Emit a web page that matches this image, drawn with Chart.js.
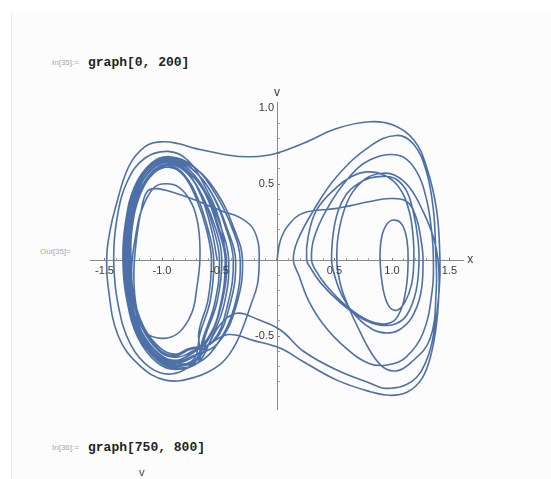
<!DOCTYPE html>
<html>
<head>
<meta charset="utf-8">
<script src="https://cdn.jsdelivr.net/npm/chart.js@4.4.1/dist/chart.umd.min.js"></script>
<style>
  body { margin: 0; background: #fff; width: 551px; height: 479px; overflow: hidden; position: relative; }
  .panel { position: absolute; left: 11px; top: 12px; right: 0; bottom: 0; background: #fbfcfb; border-left: 1px solid #ececec; }
  .tag { position: absolute; font: 8px "Liberation Sans", sans-serif; color: #a8a8a8; }
  .code { position: absolute; font: bold 13px "Liberation Mono", monospace; color: #222; }
  #chart { position: absolute; left: 0; top: 0; }
</style>
</head>
<body>
<div class="panel"></div>
<div class="tag" style="left:52px;top:58px">In[35]:=</div>
<div class="code" style="left:88px;top:55px">graph[0, 200]</div>
<div class="tag" style="left:40px;top:247px">Out[35]=</div>
<div class="tag" style="left:52px;top:443px">In[36]:=</div>
<div class="code" style="left:88px;top:440px">graph[750, 800]</div>
<div class="tag" style="left:139px;top:466px;font-size:11px;color:#444">v</div>
<canvas id="chart" width="551" height="479"></canvas>
<script>
// phase portrait pieces, [x, v], in the order the trajectory runs
const rightStart = [
  [0,0],[0.03,0.13],[0.1,0.23],[0.23,0.31],[0.52,0.34],[0.81,0.385],[0.98,0.405],[1.13,0.385],[1.21,0.28],[1.255,0.12],[1.27,0],
  [1.25,-0.22],[1.17,-0.38],[1.06,-0.46],[0.954,-0.48],[0.84,-0.46],[0.7,-0.38],[0.57,-0.24],[0.5,-0.1],[0.475,0],
  [0.49,0.18],[0.53,0.32],[0.6,0.43],[0.68,0.49],[0.81,0.54],[0.95,0.55],[1.04,0.53],[1.13,0.45],[1.19,0.3],[1.225,0.14],[1.235,0],
  [1.21,-0.2],[1.13,-0.36],[1.03,-0.42],[0.896,-0.428],[0.75,-0.39],[0.55,-0.28],[0.38,-0.15],[0.29,-0.05],[0.258,0],
  [0.27,0.15],[0.345,0.33],[0.52,0.48],[0.65,0.55],[0.78,0.58],[0.93,0.56],[1.06,0.48],[1.15,0.32],[1.185,0.14],[1.19,0],
  [1.17,-0.16],[1.11,-0.28],[1.04,-0.33],[0.97,-0.3],[0.92,-0.18],[0.896,0],
  [0.91,0.15],[0.96,0.24],[1.026,0.263],[1.09,0.23],[1.13,0.13],[1.14,0]
];
const rightLoops = [
  [1.12,-0.2],[1.05,-0.37],[0.95,-0.42],[0.8,-0.4],[0.6,-0.3],[0.42,-0.16],[0.33,-0.06],[0.30,0],
  [0.32,0.14],[0.43,0.33],[0.61,0.53],[0.81,0.66],[1.055,0.69],[1.2,0.6],[1.3,0.4],[1.35,0.15],[1.36,0],
  [1.35,-0.2],[1.27,-0.48],[1.12,-0.64],[0.96,-0.69],[0.8,-0.68],[0.6,-0.58],[0.4,-0.42],[0.27,-0.26],[0.19,-0.1],[0.142,0],
  [0.18,0.13],[0.32,0.33],[0.52,0.55],[0.81,0.75],[1.04,0.82],[1.19,0.76],[1.3,0.58],[1.36,0.33],[1.38,0.05],
  [1.385,-0.19],[1.33,-0.52],[1.157,-0.68],[1.03,-0.73],[0.9,-0.69],[0.75,-0.515],[0.58,-0.23],[0.53,-0.08],[0.52,0],
  [0.53,0.15],[0.58,0.32],[0.66,0.45],[0.78,0.54],[0.9,0.57],[1.02,0.56],[1.15,0.48],[1.27,0.32],[1.36,0.15],[1.40,0]
];
const lowerStrand = [
  [1.41,-0.15],[1.39,-0.4],[1.34,-0.62],[1.26,-0.78],[1.13,-0.87],[0.98,-0.89],[0.81,-0.866],[0.52,-0.79],[0.23,-0.669],
  [0.03,-0.58],[-0.2,-0.53],[-0.42,-0.49],[-0.58,-0.55]
];
const leftBandA = [
  [-0.73,-0.639],[-0.88,-0.68],[-1.03,-0.639],[-1.19,-0.481],[-1.29,-0.233],[-1.32,0],[-1.30,0.226],[-1.23,0.467],[-1.09,0.62],[-0.93,0.66],[-0.77,0.60],[-0.62,0.43],[-0.51,0.20],[-0.45,0],[-0.49,-0.288],[-0.60,-0.521],
  [-0.75,-0.62],[-0.88,-0.66],[-1.02,-0.62],[-1.18,-0.467],[-1.28,-0.226],[-1.30,0],[-1.29,0.219],[-1.21,0.452],[-1.08,0.602],[-0.93,0.64],[-0.79,0.58],[-0.65,0.42],[-0.55,0.20],[-0.50,0],[-0.54,-0.279],[-0.64,-0.506],
  [-0.71,-0.658],[-0.88,-0.70],[-1.03,-0.658],[-1.20,-0.495],[-1.30,-0.239],[-1.33,0],[-1.31,0.229],[-1.23,0.474],[-1.09,0.63],[-0.93,0.67],[-0.75,0.61],[-0.57,0.44],[-0.445,0.21],[-0.38,0],[-0.43,-0.296],[-0.56,-0.536],
  [-0.77,-0.592],[-0.88,-0.63],[-1.02,-0.592],[-1.16,-0.445],[-1.26,-0.215],[-1.28,0],[-1.27,0.212],[-1.20,0.438],[-1.07,0.583],[-0.93,0.62],[-0.805,0.56],[-0.685,0.40],[-0.595,0.19],[-0.55,0],[-0.58,-0.266],[-0.67,-0.483],
  [-0.72,-0.649],[-0.88,-0.69],[-1.03,-0.649],[-1.18,-0.488],[-1.28,-0.236],[-1.31,0],[-1.30,0.222],[-1.22,0.46],[-1.08,0.611],[-0.93,0.65],[-0.76,0.59],[-0.60,0.42],[-0.48,0.20],[-0.42,0],[-0.46,-0.292],[-0.58,-0.529],
  [-0.69,-0.677],[-0.88,-0.72],[-1.04,-0.677],[-1.21,-0.509],[-1.31,-0.246],[-1.34,0],[-1.32,0.233],[-1.24,0.481],[-1.09,0.639],[-0.93,0.68],[-0.73,0.62],[-0.54,0.44],[-0.39,0.21],[-0.32,0],[-0.37,-0.305],[-0.52,-0.552]
];
const leftInner = [
  [-0.69,-0.677],[-0.85,-0.68],[-1.0,-0.63],[-1.148,-0.52],[-1.235,-0.3],[-1.264,-0.06],[-1.22,0.2],[-1.177,0.33],[-1.09,0.46],[-1.003,0.5],
  [-0.858,0.482],[-0.742,0.373],[-0.684,0.22],[-0.67,0.01],[-0.698,-0.186],[-0.742,-0.35],[-0.858,-0.48],[-1.003,-0.515],[-1.148,-0.47],
  [-1.22,-0.32],[-1.245,-0.1],[-1.22,0.15],[-1.18,0.33],[-1.13,0.45],[-1.05,0.47],[-0.88,0.44],[-0.713,0.395],[-0.47,0.32],[-0.336,0.285],
  [-0.22,0.22],[-0.165,0.12],[-0.155,0],[-0.17,-0.16],[-0.23,-0.3],[-0.3,-0.45],[-0.38,-0.58]
];
const outerLoop = [
  [-0.5,-0.69],[-0.71,-0.77],[-0.97,-0.79],[-1.2,-0.69],[-1.38,-0.5],[-1.466,-0.19],[-1.48,0.03],
  [-1.45,0.2],[-1.41,0.33],[-1.29,0.614],[-1.148,0.746],[-1.003,0.778]
];
const topCrossing = [
  [-0.85,0.765],[-0.713,0.735],[-0.42,0.69],[-0.22,0.68],[-0.02,0.70],[0.229,0.768],[0.519,0.866],[0.809,0.91],[1.01,0.888],
  [1.19,0.79],[1.30,0.614],[1.388,0.329],[1.417,0]
];
const upperStrand = [
  [1.41,-0.2],[1.37,-0.45],[1.30,-0.66],[1.17,-0.8],[0.954,-0.844],[0.81,-0.81],[0.52,-0.724],[0.23,-0.6],[0.03,-0.46],
  [-0.17,-0.39],[-0.35,-0.35],[-0.5,-0.43]
];
const leftBandB = [
  [-0.6,-0.56],[-0.74,-0.69],[-0.92,-0.75],[-1.1,-0.71],[-1.27,-0.56],[-1.38,-0.3],[-1.42,0],[-1.39,0.28],[-1.3,0.52],[-1.15,0.67],[-0.95,0.715],
  [-0.78,0.66],[-0.63,0.49],[-0.5,0.26],[-0.45,0],[-0.49,-0.3],[-0.61,-0.54],
  [-0.74,-0.602],[-0.88,-0.64],[-1.02,-0.602],[-1.17,-0.452],[-1.27,-0.219],[-1.29,0],[-1.28,0.215],[-1.20,0.445],[-1.07,0.592],[-0.93,0.63],[-0.78,0.57],[-0.64,0.41],[-0.53,0.20],[-0.48,0],[-0.52,-0.271],[-0.62,-0.49],
  [-0.70,-0.658],[-0.88,-0.70],[-1.03,-0.658],[-1.19,-0.495],[-1.29,-0.239],[-1.32,0],[-1.30,0.226],[-1.23,0.467],[-1.09,0.62],[-0.93,0.66],[-0.74,0.60],[-0.56,0.43],[-0.43,0.20],[-0.36,0],[-0.41,-0.296],[-0.55,-0.536],
  [-0.77,-0.583],[-0.88,-0.62],[-1.01,-0.583],[-1.16,-0.438],[-1.25,-0.212],[-1.27,0],[-1.26,0.209],[-1.19,0.431],[-1.07,0.573],[-0.93,0.61],[-0.81,0.555],[-0.70,0.40],[-0.61,0.19],[-0.57,0],[-0.60,-0.262],[-0.68,-0.475],
  [-0.68,-0.667],[-0.88,-0.71],[-1.03,-0.667],[-1.20,-0.502],[-1.30,-0.243],[-1.33,0],[-1.31,0.229],[-1.23,0.474],[-1.09,0.63],[-0.93,0.67],[-0.72,0.61],[-0.52,0.44],[-0.375,0.21],[-0.30,0],[-0.355,-0.30],[-0.51,-0.544],
  [-0.73,-0.63],[-0.88,-0.67],[-1.02,-0.63],[-1.18,-0.474],[-1.28,-0.229],[-1.30,0],[-1.29,0.219],[-1.21,0.452],[-1.08,0.602],[-0.93,0.64],[-0.77,0.58],[-0.61,0.42],[-0.50,0.20],[-0.44,0],[-0.48,-0.283],[-0.60,-0.513],
  [-0.76,-0.62],[-0.88,-0.66],[-1.03,-0.62],[-1.18,-0.467],[-1.28,-0.226],[-1.31,0],[-1.30,0.222],[-1.22,0.46],[-1.08,0.611],[-0.93,0.65],[-0.79,0.59],[-0.66,0.42],[-0.57,0.20],[-0.52,0]
];

const xTickValues = [-1.5, -1.0, -0.5, 0.5, 1.0, 1.5];
const xTickLabels = ["-1.5", "-1.0", "-0.5", "0.5", "1.0", "1.5"];
const vTickValues = [-0.5, 0.5, 1.0];
const vTickLabels = ["-0.5", "0.5", "1.0"];

const path = [].concat(rightStart, rightLoops, lowerStrand, leftBandA, leftInner, outerLoop,
  topCrossing, upperStrand, leftBandB);

const LINE = "#4d70a8";
const AXIS = "#8a8a8a";

const onTenth = (v) => Math.abs(v * 10 - Math.round(v * 10)) < 1e-6;
const isMajor = (v) => Math.abs(v * 2 - Math.round(v * 2)) < 1e-6;

// Mathematica style labels: drawn next to the axes that cross at the origin
const axisLabels = {
  id: "axisLabels",
  afterDraw(chart) {
    const { ctx, scales, chartArea } = chart;
    const x0 = scales.x.getPixelForValue(0);
    const y0 = scales.y.getPixelForValue(0);
    ctx.save();
    ctx.fillStyle = "#3a3a3a";
    ctx.font = '11px "Liberation Sans", sans-serif';
    ctx.textAlign = "center";
    ctx.textBaseline = "top";
    xTickValues.forEach((v, i) => {
      ctx.fillText(xTickLabels[i], scales.x.getPixelForValue(v), y0 + 5);
    });
    ctx.textAlign = "right";
    ctx.textBaseline = "middle";
    vTickValues.forEach((v, i) => {
      ctx.fillText(vTickLabels[i], x0 - 3, scales.y.getPixelForValue(v));
    });
    ctx.font = '12px "Liberation Sans", sans-serif';
    ctx.textAlign = "left";
    ctx.fillText("x", chartArea.right + 4, y0);
    ctx.textAlign = "center";
    ctx.textBaseline = "bottom";
    ctx.fillText("v", x0, chartArea.top - 3);
    ctx.restore();
  },
};

const axisOpts = (pos) => ({
  type: "linear",
  position: pos,
  afterBuildTicks: (axis) => {
    axis.ticks = axis.ticks.filter((t) => onTenth(t.value));
  },
  grid: {
    drawOnChartArea: false,
    drawTicks: true,
    tickLength: -3,
    tickColor: (c) => (c.tick && isMajor(c.tick.value) ? "#777" : "#a5a5a5"),
  },
  border: { color: AXIS, width: 1 },
  ticks: { display: false, stepSize: 0.1, autoSkip: false },
});

new Chart(document.getElementById("chart"), {
  type: "scatter",
  data: {
    datasets: [
      {
        data: path.map((p) => ({ x: p[0], y: p[1] })),
        showLine: true,
        borderColor: LINE,
        borderWidth: 1.6,
        pointRadius: 0,
        tension: 0.4,
        fill: false,
      },
    ],
  },
  options: {
    responsive: false,
    animation: false,
    devicePixelRatio: 1,
    layout: { padding: { left: 90.7, right: 87.7, top: 102, bottom: 70 } },
    plugins: { legend: { display: false }, tooltip: { enabled: false } },
    scales: {
      x: Object.assign(axisOpts({ y: 0 }), { min: -1.62, max: 1.62 }),
      y: Object.assign(axisOpts({ x: 0 }), { min: -0.98, max: 1.04 }),
    },
  },
  plugins: [axisLabels],
});
</script>
</body>
</html>
